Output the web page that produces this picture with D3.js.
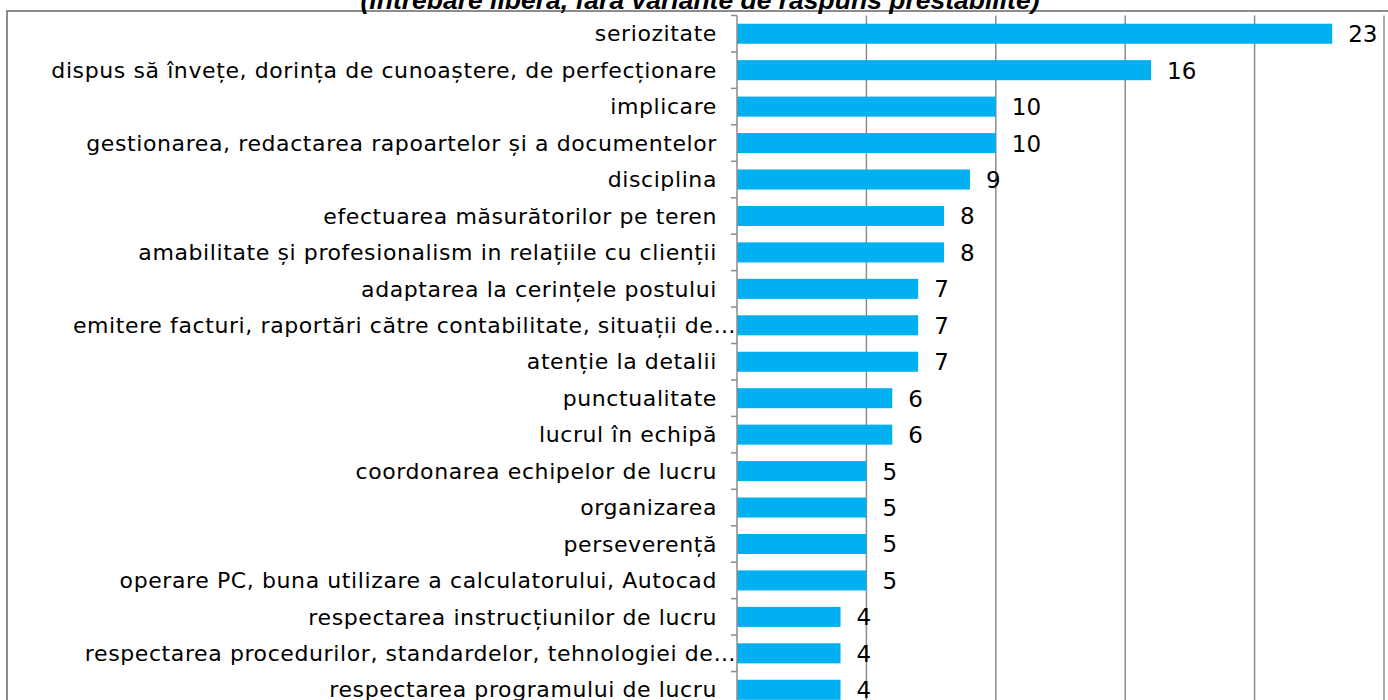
<!DOCTYPE html>
<html>
<head>
<meta charset="utf-8">
<script src="https://cdn.jsdelivr.net/npm/d3@7"></script>
<style>
  body { margin: 0; background: #fff; }
  svg { display: block; }
</style>
</head>
<body>
<svg id="chart" width="1388" height="700"></svg>
<script>
// data (bottom of the chart is cut off)
const categories = [
   "seriozitate",
   "dispus să învețe, dorința de cunoaștere, de perfecționare",
   "implicare",
   "gestionarea, redactarea rapoartelor și a documentelor",
   "disciplina",
   "efectuarea măsurătorilor pe teren",
   "amabilitate și profesionalism in relațiile cu clienții",
   "adaptarea la cerințele postului",
   "emitere facturi, raportări către contabilitate, situații de…",
   "atenție la detalii",
   "punctualitate",
   "lucrul în echipă",
   "coordonarea echipelor de lucru",
   "organizarea",
   "perseverență",
   "operare PC, buna utilizare a calculatorului, Autocad",
   "respectarea instrucțiunilor de lucru",
   "respectarea procedurilor, standardelor, tehnologiei de…",
   "respectarea programului de lucru"
];
const values = [23, 16, 10, 10, 9, 8, 8, 7, 7, 7, 6, 6, 5, 5, 5, 5, 4, 4, 4];
const xTicks = [0, 5, 10, 15, 20, 25];
const title = "(întrebare liberă, fără variante de răspuns prestabilite)";

const svg = d3.select('#chart');

const plot = { left: 737, right: 1384, top: 15.5, bottom: 708 };

const x = d3.scaleLinear()
   .domain([0, 25])
   .range([plot.left, plot.right]);

const rows = d3.scaleBand()
   .domain(categories)
   .range([plot.top, plot.bottom]);

const y = d3.scaleBand()
   .domain(categories)
   .range([plot.top, plot.bottom])
   .paddingInner(0.45)
   .paddingOuter(0.225);

// outer chart frame (only top and left visible)
svg.append("path")
   .attr("d", "M7,700V11H1388")
   .attr("fill", "none")
   .attr("stroke", "#8c8c8c")
   .attr("stroke-width", 2);

// title, partly cut off at top
svg.append("text")
   .text(title)
   .attr("x", 700)
   .attr("y", 9)
   .attr("text-anchor", "middle")
   .style("font-family", "'Liberation Sans', Arial, sans-serif")
   .style("font-weight", "bold")
   .style("font-style", "italic")
   .style("font-size", "26.5px");

// vertical gridlines
svg.append("g")
   .selectAll("line")
   .data(xTicks.slice(1))
   .enter()
   .append("line")
      .attr("x1", d => x(d))
      .attr("x2", d => x(d))
      .attr("y1", plot.top)
      .attr("y2", 700)
      .attr("stroke", "#8c8c8c")
      .attr("stroke-width", 1.5);

// bars
svg.append("g")
   .selectAll("rect")
   .data(categories)
   .enter()
   .append("rect")
      .attr("x", x(0))
      .attr("y", d => y(d))
      .attr("width", (d, i) => x(values[i]) - x(0))
      .attr("height", y.bandwidth())
      .attr("fill", "#00b0f0");

// category axis with tick marks between categories
const axis = svg.append("g");
axis.append("line")
   .attr("x1", x(0)).attr("x2", x(0))
   .attr("y1", plot.top).attr("y2", 700)
   .attr("stroke", "#8c8c8c")
   .attr("stroke-width", 1.5);
axis.selectAll(".tick-mark")
   .data(categories)
   .enter()
   .append("line")
      .attr("x1", x(0) - 6)
      .attr("x2", x(0))
      .attr("y1", d => rows(d))
      .attr("y2", d => rows(d))
      .attr("stroke", "#8c8c8c")
      .attr("stroke-width", 1.5);

// truncated labels run right up to the axis, like in the original
axis.selectAll(".cat-label")
   .data(categories)
   .enter()
   .append("text")
      .text(d => d)
      .attr("x", d => d.endsWith("…") ? x(0) - 1 : x(0) - 20)
      .attr("y", d => rows(d) + rows.bandwidth() / 2)
      .attr("dy", "0.35em")
      .attr("text-anchor", "end")
      .style("font-family", "'DejaVu Sans', sans-serif")
      .style("font-size", "22px")
      .style("letter-spacing", "0.6px")
      .style("fill", "#000");

// value labels
svg.append("g")
   .selectAll("text")
   .data(categories)
   .enter()
   .append("text")
      .text((d, i) => values[i])
      .attr("x", (d, i) => x(values[i]) + 16)
      .attr("y", d => y(d) + y.bandwidth() / 2)
      .attr("dy", "0.37em")
      .style("font-family", "'DejaVu Sans', sans-serif")
      .style("font-size", "23px")
      .style("fill", "#000");
</script>
</body>
</html>
